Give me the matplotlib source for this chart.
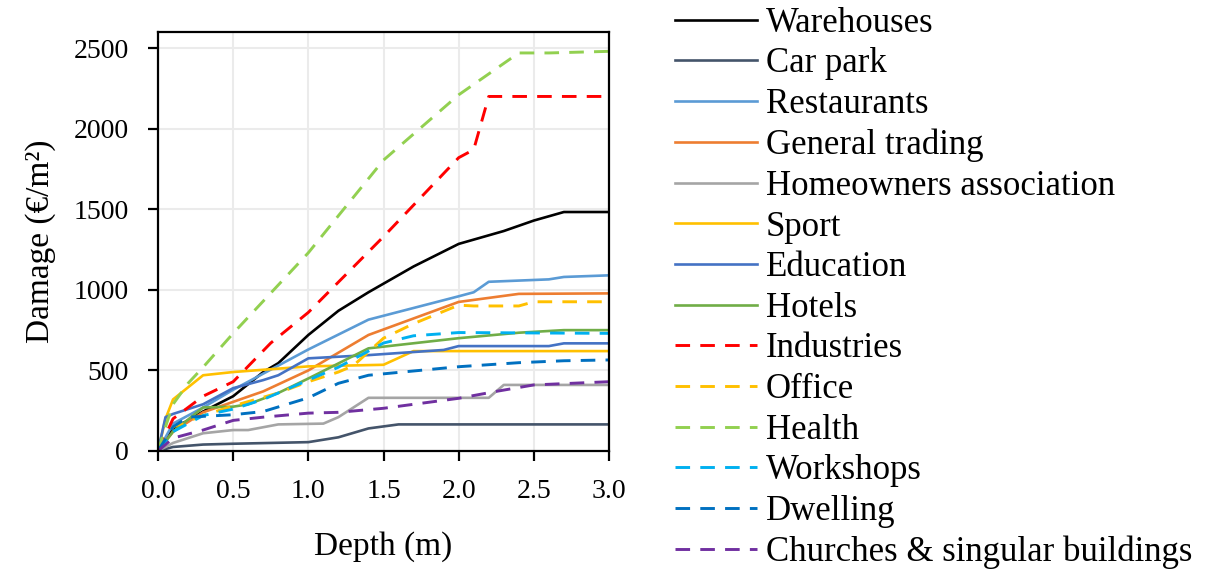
import matplotlib
matplotlib.use("Agg")
import matplotlib.pyplot as plt

plt.rcParams['font.family'] = ['Liberation Serif', 'DejaVu Serif']

# ---- data (depth in m, damage in EUR/m2) ----
warehouses_x = [0, 0.1, 0.2, 0.3, 0.5, 0.7, 0.8, 1.0, 1.2, 1.4, 1.7, 2.0, 2.3, 2.5, 2.7, 3.0]
warehouses_y = [0, 140, 190, 245, 340, 490, 545, 720, 870, 985, 1145, 1285, 1365, 1430, 1483, 1483]

carpark_x = [0, 0.1, 0.3, 0.5, 1.0, 1.2, 1.4, 1.6, 3.0]
carpark_y = [0, 25, 40, 45, 55, 85, 140, 165, 165]

restaurants_x = [0, 0.1, 0.3, 0.5, 0.7, 1.0, 1.4, 2.0, 2.1, 2.2, 2.6, 2.7, 3.0]
restaurants_y = [0, 170, 270, 380, 480, 630, 815, 960, 985, 1050, 1065, 1080, 1090]

trading_x = [0, 0.1, 0.3, 0.5, 0.7, 1.0, 1.4, 2.0, 2.4, 3.0]
trading_y = [0, 120, 240, 305, 370, 500, 720, 925, 975, 978]

homeowners_x = [0, 0.1, 0.3, 0.5, 0.6, 0.8, 1.1, 1.2, 1.4, 2.2, 2.3, 3.0]
homeowners_y = [0, 50, 110, 130, 130, 165, 170, 210, 330, 330, 410, 410]

sport_x = [0, 0.05, 0.1, 0.3, 0.5, 1.0, 1.5, 1.7, 3.0]
sport_y = [0, 200, 320, 470, 490, 525, 535, 620, 620]

education_x = [0, 0.05, 0.1, 0.3, 0.5, 0.7, 0.8, 1.0, 1.4, 1.9, 2.0, 2.6, 2.7, 3.0]
education_y = [0, 210, 230, 290, 390, 440, 470, 575, 595, 627, 651, 651, 668, 668]

hotels_x = [0, 0.1, 0.3, 0.5, 0.6, 0.8, 1.0, 1.4, 2.0, 2.4, 2.7, 3.0]
hotels_y = [0, 120, 270, 275, 290, 360, 450, 637, 700, 734, 750, 750]

industries_x = [0, 0.1, 0.3, 0.5, 0.75, 1.0, 1.5, 2.0, 2.1, 2.2, 3.0]
industries_y = [0, 200, 340, 430, 670, 860, 1330, 1820, 1870, 2200, 2200]

office_x = [0, 0.1, 0.3, 0.5, 0.8, 1.0, 1.2, 1.3, 1.5, 1.7, 2.0, 2.1, 2.4, 2.5, 3.0]
office_y = [0, 150, 220, 280, 360, 430, 490, 530, 700, 790, 905, 900, 900, 926, 926]

health_x = [0, 0.05, 0.1, 0.2, 0.3, 0.5, 0.7, 1.0, 1.5, 2.0, 2.4, 2.6, 3.0]
health_y = [0, 150, 290, 420, 520, 730, 930, 1230, 1805, 2210, 2470, 2470, 2480]

workshops_x = [0, 0.1, 0.3, 0.5, 0.7, 1.0, 1.2, 1.5, 1.7, 2.0, 3.0]
workshops_y = [0, 120, 220, 260, 320, 440, 520, 670, 715, 735, 730]

dwelling_x = [0, 0.1, 0.2, 0.5, 0.7, 1.0, 1.2, 1.4, 2.0, 2.4, 2.7, 3.0]
dwelling_y = [0, 150, 210, 225, 245, 330, 420, 470, 523, 548, 560, 565]

churches_x = [0, 0.1, 0.3, 0.5, 0.7, 1.0, 1.2, 1.5, 2.0, 2.25, 2.5, 3.0]
churches_y = [0, 80, 130, 190, 210, 235, 240, 265, 327, 370, 410, 430]

labels = ["Warehouses", "Car park", "Restaurants", "General trading",
          "Homeowners association", "Sport", "Education", "Hotels",
          "Industries", "Office", "Health", "Workshops", "Dwelling",
          "Churches & singular buildings"]

xticks = [0.0, 0.5, 1.0, 1.5, 2.0, 2.5, 3.0]
yticks = [0, 500, 1000, 1500, 2000, 2500]

series = [
    (warehouses_x, warehouses_y, "#000000", "-"),
    (carpark_x, carpark_y, "#44546A", "-"),
    (restaurants_x, restaurants_y, "#5B9BD5", "-"),
    (trading_x, trading_y, "#ED7D31", "-"),
    (homeowners_x, homeowners_y, "#A5A5A5", "-"),
    (sport_x, sport_y, "#FFC000", "-"),
    (education_x, education_y, "#4472C4", "-"),
    (hotels_x, hotels_y, "#70AD47", "-"),
    (industries_x, industries_y, "#FF0000", "--"),
    (office_x, office_y, "#FFC000", "--"),
    (health_x, health_y, "#92D050", "--"),
    (workshops_x, workshops_y, "#00B0F0", "--"),
    (dwelling_x, dwelling_y, "#0070C0", "--"),
    (churches_x, churches_y, "#7030A0", "--"),
]

fig = plt.figure(figsize=(12.25, 5.71), dpi=100)
ax = fig.add_axes([158 / 1225, 1 - 451 / 571, (609 - 158) / 1225, (451 - 32) / 571])

handles = []
for (x, y, c, ls), lab in zip(series, labels):
    if ls == "--":
        h, = ax.plot(x, y, color=c, lw=2.1, linestyle=(0, (5, 3.5)), label=lab)
    else:
        h, = ax.plot(x, y, color=c, lw=1.9, label=lab)
    handles.append(h)

ax.set_xlim(0, 3.0)
ax.set_ylim(0, 2600)
ax.set_xticks(xticks)
ax.set_xticklabels([f"{t:.1f}" for t in xticks])
ax.set_yticks(yticks)
ax.set_yticklabels([str(t) for t in yticks])
ax.grid(True, color="#EBEBEB", lw=1.5)
ax.set_axisbelow(True)
for s in ax.spines.values():
    s.set_color("black")
    s.set_linewidth(1.6)
ax.tick_params(axis="both", direction="out", length=7, width=1.6, labelsize=20)
ax.tick_params(axis="x", pad=13)
ax.tick_params(axis="y", pad=14)
ax.set_xlabel("Depth (m)", fontsize=24, labelpad=20)
ax.set_ylabel("Damage (€/m²)", fontsize=24, labelpad=13)

fig.legend(handles=handles, labels=labels, loc="upper left",
           bbox_to_anchor=(675 / 1225, 0.988), frameon=False, fontsize=25,
           handlelength=2.36, handletextpad=0.26, labelspacing=0.22,
           borderaxespad=0, borderpad=0)

fig.savefig("out.png", dpi=100)
